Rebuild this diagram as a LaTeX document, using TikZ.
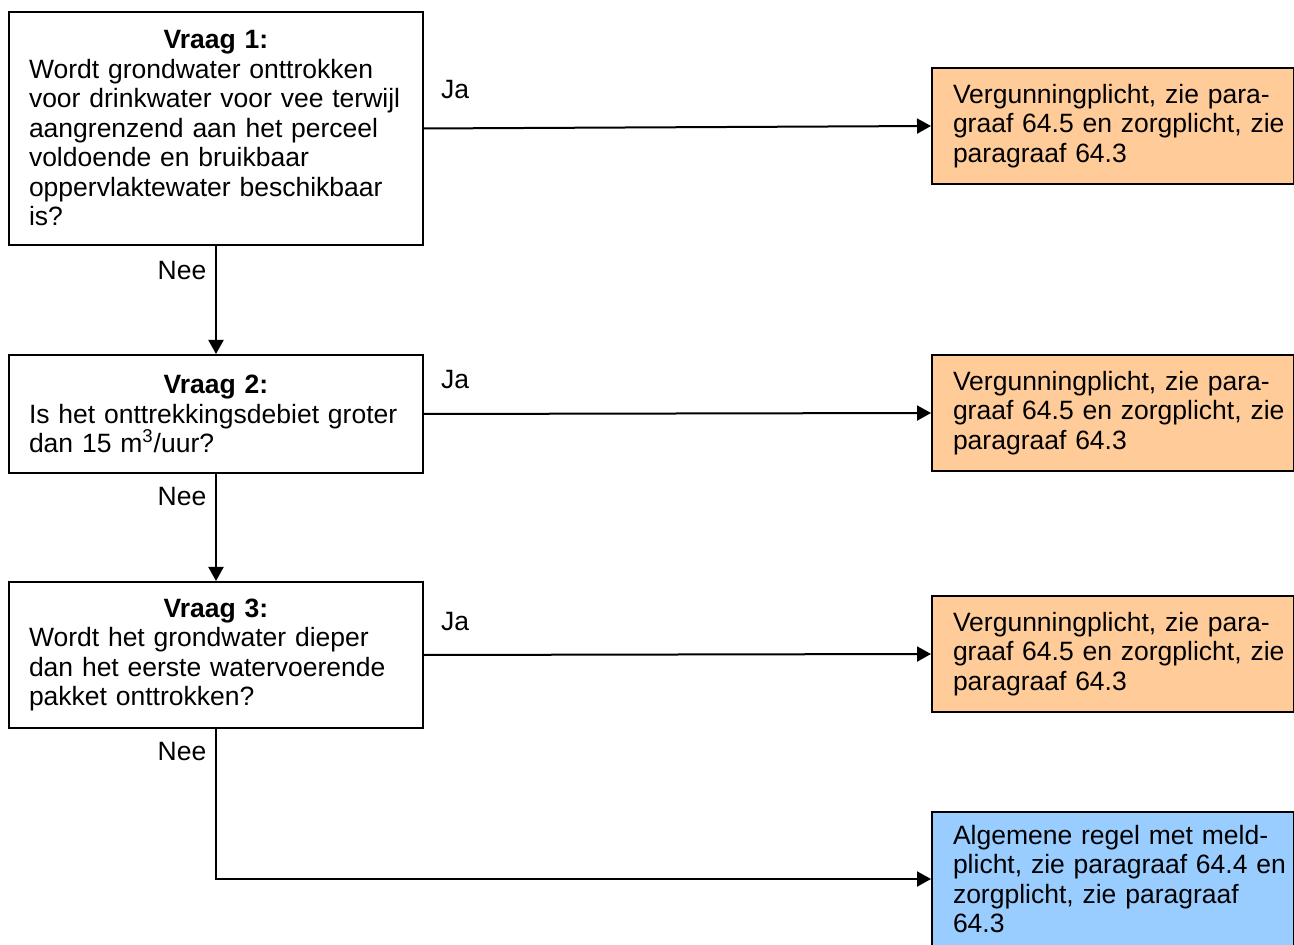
\documentclass[tikz,border=0pt]{standalone}
\usepackage{fontspec}
\setmainfont{Liberation Sans}
\usetikzlibrary{arrows.meta}
\definecolor{orangebox}{HTML}{FFCC99}
\definecolor{bluebox}{HTML}{99CCFF}
\newcommand{\ai}{\hspace*{9pt}}
\begin{document}
\begin{tikzpicture}[x=0.5pt,y=-0.5pt,
  every node/.append style={font=\fontsize{13.25pt}{14.75pt}\selectfont},
  qbox/.style={draw, line width=1pt, anchor=north west, align=left,
    inner xsep=10pt, inner ysep=0pt, text width=187pt, minimum width=207pt},
  abox/.style={draw, line width=1pt, anchor=north west, align=left,
    inner xsep=1.5pt, inner ysep=0pt, text width=178pt, minimum width=181pt, minimum height=58pt},
  lbl/.style={inner sep=0pt},
  conn/.style={line width=1pt, -{Triangle[length=7pt,width=7.5pt]}}
]
\useasboundingbox (0,0) rectangle (1294,945);

\node[qbox, minimum height=116.5pt] (q1) at (8,11) {\makebox[\linewidth]{\bfseries Vraag 1:}\\Wordt grondwater onttrokken\\voor drinkwater voor vee terwijl\\aangrenzend aan het perceel\\voldoende en bruikbaar\\oppervlaktewater beschikbaar\\is?};
\node[qbox, minimum height=59pt] (q2) at (8,354) {\makebox[\linewidth]{\bfseries Vraag 2:}\\Is het onttrekkingsdebiet groter\\dan 15 m\textsuperscript{3}/uur?};
\node[qbox, minimum height=73pt] (q3) at (8,581) {\makebox[\linewidth]{\bfseries Vraag 3:}\\Wordt het grondwater dieper\\dan het eerste watervoerende\\pakket onttrokken?};

\node[abox, fill=orangebox] (a1) at (931,67) {\ai Vergunningplicht, zie para-\\\ai graaf 64.5 en zorgplicht, zie\\\ai paragraaf 64.3};
\node[abox, fill=orangebox] (a2) at (931,354) {\ai Vergunningplicht, zie para-\\\ai graaf 64.5 en zorgplicht, zie\\\ai paragraaf 64.3};
\node[abox, fill=orangebox] (a3) at (931,595) {\ai Vergunningplicht, zie para-\\\ai graaf 64.5 en zorgplicht, zie\\\ai paragraaf 64.3};
\node[abox, fill=bluebox, minimum height=67pt] (a4) at (931,811) {\ai Algemene regel met meld-\\\ai plicht, zie paragraaf 64.4 en\\\ai zorgplicht, zie paragraaf\\\ai 64.3};

\draw[conn] (q1.east) -- (a1.west);
\draw[conn] (q2.east) -- (a2.west);
\draw[conn] (q3.east) -- (a3.west);
\draw[conn] (q1.south) -- (q2.north);
\draw[conn] (q2.south) -- (q3.north);
\draw[conn] (q3.south) |- (a4.west);

\node[lbl] (ja1) at (455,90) {Ja};
\node[lbl] (ja2) at (455,380) {Ja};
\node[lbl] (ja3) at (455,622) {Ja};
\node[lbl] (nee1) at (182,271) {Nee};
\node[lbl] (nee2) at (182,497) {Nee};
\node[lbl] (nee3) at (182,752) {Nee};
\end{tikzpicture}
\end{document}
